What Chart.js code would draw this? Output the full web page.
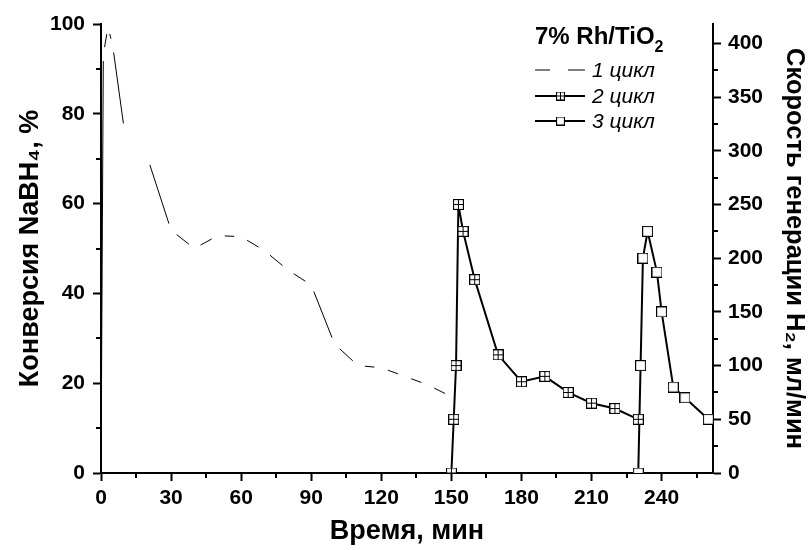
<!DOCTYPE html>
<html>
<head>
<meta charset="utf-8">
<script src="https://cdn.jsdelivr.net/npm/chart.js@4.4.1/dist/chart.umd.min.js"></script>
<style>
  html, body { margin: 0; padding: 0; background: #fff; }
  #wrap { width: 810px; height: 550px; }
</style>
</head>
<body>
<div id="wrap"><canvas id="chart" width="810" height="550"></canvas></div>
<script>
// time, min
const time1 = [0, 1, 3, 5, 10, 15, 20, 30, 40, 50, 60, 70, 80, 90, 100, 110, 120, 130, 140, 150];
const time2 = [150, 151, 152, 153, 155, 160, 170, 180, 190, 200, 210, 220, 230];
const time3 = [230, 231, 232, 234, 238, 240, 245, 250, 260];
// H2 generation rate, ml/min (null = no line drawn there)
const rate1 = [0, 390, 415, 398, 319, null, 293, 226, 209, 221, 220, 207, 189, 175, 120, 100, 98, 90, 82, 71];
const rate2 = [0, 50, 100, 250, 225, 180, 110, 85, 90, 75, 65, 60, 50];
const rate3 = [0, 100, 200, 225, 187, 150, 80, 70, 50];

const seriesNames = ["1 цикл", "2 цикл", "3 цикл"];

const xTicks = [0, 30, 60, 90, 120, 150, 180, 210, 240];
const xMinor = [15, 45, 75, 105, 135, 165, 195, 225, 255];
const leftTicks = [0, 20, 40, 60, 80, 100];
const leftMinor = [10, 30, 50, 70, 90];
const rightTicks = [0, 50, 100, 150, 200, 250, 300, 350, 400];
const rightMinor = [25, 75, 125, 175, 225, 275, 325, 375];

const FONT = "'Liberation Sans', Arial, sans-serif";

function pts(xs, ys) {
  return xs.map((x, i) => ({ x: x, y: ys[i] }));
}

// square marker, optionally with a cross inside
function boxMarker(cross, size) {
  const c = document.createElement("canvas");
  c.width = c.height = size;
  const g = c.getContext("2d");
  const e = size - 1;
  g.fillStyle = "#fff";
  g.fillRect(0.5, 0.5, e, e);
  g.strokeStyle = "#000";
  g.lineWidth = 1.2;
  g.strokeRect(0.5, 0.5, e, e);
  if (cross) {
    g.lineWidth = 1;
    g.beginPath();
    g.moveTo(size / 2, 0.5);
    g.lineTo(size / 2, e + 0.5);
    g.moveTo(0.5, size / 2);
    g.lineTo(e + 0.5, size / 2);
    g.stroke();
  }
  return c;
}
const crossBox = boxMarker(true, 11);
const openBox = boxMarker(false, 11);
const crossBoxSmall = boxMarker(true, 9);
const openBoxSmall = boxMarker(false, 9);

// each segment of the 1st cycle is one dash with a gap at both ends
function segDash(ctx) {
  const l = Math.hypot(ctx.p1.x - ctx.p0.x, ctx.p1.y - ctx.p0.y);
  return [Math.max(l - 14, 0.01), l + 20];
}

const extras = {
  id: "extras",
  afterDraw(chart) {
    const c = chart.ctx;
    const ca = chart.chartArea;
    const sx = chart.scales.x, sl = chart.scales.yL, sr = chart.scales.yR;
    c.save();
    // minor ticks
    c.strokeStyle = "#000";
    c.lineWidth = 2;
    c.beginPath();
    xMinor.forEach(v => { const p = Math.round(sx.getPixelForValue(v)); c.moveTo(p, ca.bottom); c.lineTo(p, ca.bottom + 5); });
    leftMinor.forEach(v => { const p = Math.round(sl.getPixelForValue(v)); c.moveTo(ca.left, p); c.lineTo(ca.left - 5, p); });
    rightMinor.forEach(v => { const p = Math.round(sr.getPixelForValue(v)); c.moveTo(ca.right, p); c.lineTo(ca.right + 5, p); });
    c.stroke();

    // legend
    const lx = ca.right - 178;
    c.fillStyle = "#000";
    c.textBaseline = "alphabetic";
    c.textAlign = "left";
    c.font = "bold 24px " + FONT;
    const head = "7% Rh/TiO";
    c.fillText(head, lx, 44);
    const hw = c.measureText(head).width;
    c.font = "bold 16px " + FONT;
    c.fillText("2", lx + hw, 52);

    const rows = [77, 103, 128];
    c.font = "italic 21px " + FONT;
    rows.forEach((b, i) => {
      const y = b - 7;
      c.strokeStyle = "#000";
      c.beginPath();
      if (i === 0) {
        c.lineWidth = 1;
        c.moveTo(lx, y); c.lineTo(lx + 15, y);
        c.moveTo(lx + 33, y); c.lineTo(lx + 50, y);
      } else {
        c.lineWidth = 2;
        c.moveTo(lx, y); c.lineTo(lx + 50, y);
      }
      c.stroke();
      if (i === 1) c.drawImage(crossBoxSmall, lx + 21, y - 4.5);
      if (i === 2) c.drawImage(openBoxSmall, lx + 21, y - 4.5);
      c.fillText(chart.data.datasets[i].label, lx + 57, b);
    });
    c.restore();
  }
};

new Chart(document.getElementById("chart"), {
  type: "line",
  data: {
    datasets: [
      {
        label: seriesNames[0],
        data: pts(time1, rate1),
        yAxisID: "yR",
        borderColor: "#000",
        borderWidth: 1,
        pointRadius: 0,
        spanGaps: false,
        borderDashOffset: -7,
        segment: { borderDash: segDash, borderDashOffset: -7 },
      },
      {
        label: seriesNames[1],
        data: pts(time2, rate2),
        yAxisID: "yR",
        borderColor: "#000",
        borderWidth: 2,
        pointStyle: crossBox,
        pointRadius: 5,
      },
      {
        label: seriesNames[2],
        data: pts(time3, rate3),
        yAxisID: "yR",
        borderColor: "#000",
        borderWidth: 2,
        pointStyle: openBox,
        pointRadius: 5,
      },
    ],
  },
  options: {
    responsive: false,
    animation: false,
    layout: { padding: { top: 24 } },
    plugins: { legend: { display: false }, tooltip: { enabled: false } },
    scales: {
      x: {
        type: "linear",
        min: 0,
        max: 262,
        border: { color: "#000", width: 2 },
        grid: { drawOnChartArea: false, tickLength: 8, tickColor: "#000", tickWidth: 2 },
        ticks: { color: "#000", padding: 5, maxRotation: 0, font: { family: FONT, size: 21, weight: "bold" } },
        afterBuildTicks: s => { s.ticks = xTicks.map(v => ({ value: v })); },
        afterFit: s => { s.height = 77; },
        title: { display: true, text: "Время, мин", color: "#000", padding: { top: 0, bottom: 2 }, font: { family: FONT, size: 27, weight: "bold" } },
      },
      yL: {
        type: "linear",
        position: "left",
        min: 0,
        max: 100,
        border: { color: "#000", width: 2 },
        grid: { drawOnChartArea: false, tickLength: 8, tickColor: "#000", tickWidth: 2 },
        ticks: { color: "#000", padding: 8, font: { family: FONT, size: 21, weight: "bold" } },
        afterBuildTicks: s => { s.ticks = leftTicks.map(v => ({ value: v })); },
        afterFit: s => { s.width = 101; },
        title: { display: true, text: "Конверсия NaBH₄, %", color: "#000", padding: { top: 14, bottom: 0 }, font: { family: FONT, size: 27, weight: "bold" } },
      },
      yR: {
        type: "linear",
        position: "right",
        min: 0,
        max: 418,
        border: { color: "#000", width: 2 },
        grid: { drawOnChartArea: false, tickLength: 8, tickColor: "#000", tickWidth: 2 },
        ticks: { color: "#000", padding: 7, font: { family: FONT, size: 21, weight: "bold" } },
        afterBuildTicks: s => { s.ticks = rightTicks.map(v => ({ value: v })); },
        afterFit: s => { s.width = 97; },
        title: { display: true, text: "Скорость генерации H₂, мл/мин", color: "#000", padding: { top: 1, bottom: 0 }, font: { family: FONT, size: 25.5, weight: "bold" } },
      },
    },
  },
  plugins: [extras],
});
</script>
</body>
</html>
